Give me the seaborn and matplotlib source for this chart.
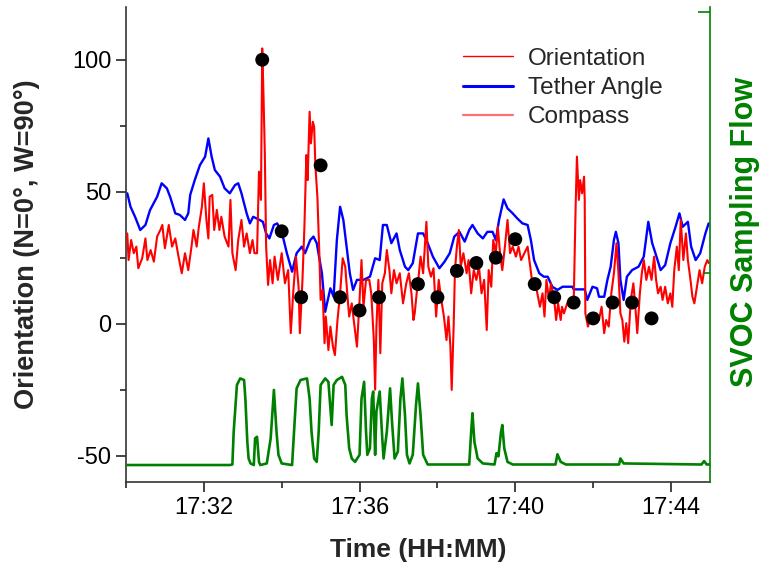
import numpy as np
import pandas as pd
import matplotlib
matplotlib.use('Agg')
import matplotlib.pyplot as plt
import matplotlib.dates as mdates
from matplotlib.lines import Line2D
from matplotlib.ticker import MultipleLocator
import seaborn as sns

# Time axis: seconds after 17:30:00
start_time = '2000-01-01 17:30:00'

# Orientation (red), degrees
red_sec = [2, 4, 8, 12, 16, 19, 25, 30, 33, 38, 43, 48, 53, 56, 60, 66, 71, 76, 81, 86,
           91, 96, 101, 104, 109, 112, 117, 120, 124, 127, 129, 133, 136, 140, 144, 147,
           152, 158, 161, 164, 169, 173, 178, 182, 186, 191, 195, 198, 202, 205, 208, 210,
           212, 214, 216, 219, 222, 226, 229, 234, 240, 245, 250, 254, 258, 262, 266, 268,
           272, 275, 278, 280, 283, 285, 288, 290, 292, 295, 298, 300, 303, 306, 308, 312,
           315, 319, 322, 326, 330, 334, 338, 341, 344, 348, 351, 356, 360, 363, 366, 370,
           375, 378, 382, 384, 386, 389, 392, 395, 399, 402, 406, 409, 413, 417, 422, 427,
           432, 436, 440, 443, 445, 448, 450, 454, 458, 463, 466, 470, 474, 478, 482, 486,
           490, 494, 497, 500, 502, 505, 507, 510, 513, 516, 520, 525, 528, 532, 536, 540,
           544, 548, 552, 556, 559, 563, 566, 570, 573, 577, 580, 584, 588, 592, 596, 601,
           605, 609, 614, 619, 623, 627, 630, 634, 638, 642, 645, 648, 652, 655, 660, 663,
           666, 670, 672, 675, 680, 685, 690, 693, 695, 698, 700, 703, 706, 707, 708, 712,
           716, 721, 724, 729, 733, 737, 740, 744, 748, 752, 756, 759, 762, 765, 768, 771,
           774, 778, 782, 785, 788, 792, 795, 798, 802, 806, 810, 814, 817, 820, 824, 827,
           831, 835, 839, 842, 845, 849, 852, 855, 859, 863, 866, 870, 873, 876, 880, 884,
           888, 892, 896, 898]
red_deg = [34.2, 24.1, 31.7, 26.7, 29.2, 21, 24.8, 32.3, 24.1, 27.9, 23.5, 33, 35.5, 37.4, 28.6, 37.4, 29.2, 32.3, 25.4, 19.1,
           26.7, 20.3, 29.2, 35.5, 29.2, 36.1, 44.3, 53.2, 39.3, 32.3, 48.1, 48.8, 35.5, 43.1, 35.5, 40.5,
           33, 29.2, 46.9, 26.7, 20.3, 31.7, 39.3, 29.2, 34.2, 26.7, 31.7, 26.7, 26.7, 57.6, 46.9, 104.3,
           86, 64.5, 29.2, 14.7, 24.1, 15.3, 25.4, 16.6, 26.7, 15.3, 20.3, -3.6, 12.8, 25.4, 14, -3.6,
           16.6, 36.7, 63.9, 54.4, 80.3, 68.3, 76.5, 74.6, 59.5, 48.1, 26.7, 9, 12.8, -7.4, 2.7, -10,
           -1.1, -8.7, -11.9, 1.4, 11.5, 24.8, 21.6, 11.5, 2.7, 7.7, 1.4, -8.7, 9, 24.1, 6.4, 16.6,
           16.6, 11.5, -6.2, -25, -1.1, 16.6, -11.2, 15.3, 19.1, 27.9, 20.3, 11.5, 20.3, 15.3, 19.1, 7.7,
           15.3, 19.1, 11.5, 1.4, 3.9, 11.5, 15.3, 25.4, 19.1, 38.6, 21.6, 17.8, 21, 2.7, 16.6, 9,
           2.7, -6.2, 2.7, -8.7, -25.1, -1.1, 20.3, 29.2, 35.5, 21.6, 26.7, 19.1, 24.1, 11.5, 20.3, 16.6,
           21.6, 11.5, 16.6, -2.4, 20.3, 14, 31.7, 26.7, 36.7, 25.4, 20.3, 29.2, 39.3, 26.7, 29.2, 25.4,
           29.2, 24.1, 26.7, 29.2, 21.6, 14, 16.6, 11.5, 6.4, 11.5, 2.7, 16.6, 9, 15.3, 9, 1.4,
           7.7, 1.4, 6.4, 3.9, 7.7, 6.4, 7.7, 44.3, 63.3, 46.9, 54.4, 49.4, 55.7, 46.9, 3.9, -1.1,
           2.7, 0.2, 3.9, 1.4, 6.4, -3.6, 1.4, -1.1, 11.5, 19.1, 30.5, 19.1, 3.9, 1.4, -6.8, 0.2,
           -7.4, 9, 15.3, 6.4, -3.6, 11.5, 19.1, 24.1, 16.6, 21.6, 16.6, 25.4, 16.6, 11.5, 14, 9,
           14, 7.7, 11.5, 6.4, 20.3, 29.2, 20.3, 39.3, 24.1, 34.2, 24.1, 16.6, 10.2, 7.7, 14, 20.3,
           15.3, 21.6, 24.1, 23]

# Tether angle (blue), degrees
blue_sec = [2, 7, 14, 22, 30, 37, 48, 55, 63, 68, 76, 83, 91, 96, 99, 106, 114, 122, 127, 132,
            137, 145, 152, 160, 168, 173, 178, 186, 191, 196, 206, 211, 216, 221, 228, 233, 240,
            248, 256, 263, 271, 276, 284, 289, 294, 302, 307, 315, 320, 325, 330, 335, 340, 345,
            350, 356, 366, 376, 384, 391, 396, 402, 409, 417, 422, 430, 435, 442, 450, 458, 465,
            473, 483, 491, 499, 506, 514, 522, 529, 534, 542, 550, 557, 565, 570, 575, 582, 588,
            596, 603, 611, 619, 624, 629, 637, 644, 650, 657, 665, 673, 688, 690, 707, 711, 719,
            726, 729, 737, 742, 747, 752, 755, 759, 762, 767, 772, 780, 790, 798, 805, 811, 816,
            824, 831, 839, 847, 853, 858, 866, 871, 878, 885, 893, 898]
blue_deg = [49.4, 44.3, 40.5, 35.5, 37.4, 43, 48.1, 53.2, 51.3, 48.1, 41.8, 41.2, 39.3, 41.8, 48.8, 54.4, 60.1, 63.3, 70.2, 63.3,
            58.2, 55.7, 51.3, 49.4, 52.5, 53.2, 49.4, 41.8, 38, 40.5, 39.3, 38.6, 34.2, 32.3, 37.4, 38, 34.8,
            26.7, 19.7, 26.7, 29.2, 26.7, 31.7, 33, 30.5, 19.1, 4.5, 13.4, 10.2, 31.7, 44.3, 39.3, 29.2, 19.1,
            12.8, 16.6, 16.6, 17.8, 24.8, 24.1, 37.4, 37.4, 30.5, 34.2, 27.9, 21.6, 20.3, 22.9, 34.2, 34.2, 30.5,
            25.4, 21, 23.5, 26.7, 33, 34.8, 31.1, 35.5, 37.4, 34.2, 32.3, 34.8, 34.8, 31.7, 39.3, 47.1, 43.7,
            41.8, 39.9, 38, 37.4, 31.7, 24.1, 19.1, 17.8, 17.8, 14, 12.8, 14, 14, 13, 13, 9, 14,
            13.4, 10.2, 10.2, 16.6, 21.6, 31.7, 34.8, 30.5, 16.6, 9, 17.8, 20.3, 21.6, 25.4, 38.6, 30.5, 26.7,
            20.3, 22.2, 30.5, 36.7, 41.8, 36.7, 38.6, 29.2, 24.1, 26.7, 34.2, 38]

# Compass readings (black dots), degrees
compass_sec = [210, 240, 270, 300, 330, 360, 390, 450, 480, 510, 540, 570, 600, 630, 660,
               690, 720, 750, 780, 810]
compass_deg = [100, 35, 10, 60, 10, 5, 10, 15, 10, 20, 23, 25, 32, 15, 10, 8, 2, 8, 8, 2]

# SVOC sampling flow (green, right axis)
flow_sec = [0, 160, 164, 166, 171, 176, 182, 184, 187, 189, 192, 197, 199, 202, 205, 207, 217,
            223, 228, 232, 235, 240, 256, 259, 263, 269, 279, 283, 286, 290, 294, 297, 300, 307,
            312, 317, 320, 325, 333, 338, 340, 344, 348, 353, 360, 363, 367, 370, 372, 376, 379,
            381, 384, 386, 391, 395, 397, 402, 407, 410, 414, 419, 423, 426, 430, 433, 437, 442,
            447, 450, 454, 458, 465, 529, 532, 534, 537, 542, 550, 568, 571, 574, 578, 580, 583,
            588, 596, 662, 665, 670, 678, 760, 762, 767, 887, 891, 895, 900]
flow_val = [0.267, 0.267, 0.269, 0.394, 0.573, 0.598, 0.592, 0.521, 0.356, 0.292, 0.273, 0.267, 0.369,
            0.375, 0.279, 0.267, 0.273, 0.369, 0.554, 0.394, 0.306, 0.273, 0.267, 0.394, 0.560, 0.592,
            0.598, 0.521, 0.394, 0.292, 0.279, 0.394, 0.573, 0.598, 0.585, 0.420, 0.573, 0.592, 0.604,
            0.573, 0.458, 0.331, 0.292, 0.279, 0.306, 0.521, 0.585, 0.394, 0.306, 0.331, 0.521, 0.548,
            0.306, 0.471, 0.548, 0.369, 0.292, 0.394, 0.560, 0.433, 0.292, 0.318, 0.521, 0.598, 0.458,
            0.306, 0.273, 0.306, 0.496, 0.579, 0.458, 0.306, 0.269, 0.269, 0.394, 0.465, 0.356, 0.292,
            0.273, 0.269, 0.312, 0.300, 0.394, 0.420, 0.331, 0.279, 0.269, 0.269, 0.308, 0.279, 0.269,
            0.269, 0.292, 0.273, 0.269, 0.282, 0.269, 0.269]

legend_labels = ['Orientation', 'Tether Angle', 'Compass']


def to_time(sec):
    return pd.Timestamp(start_time) + pd.to_timedelta(sec, unit='s')


red_df = pd.DataFrame({'time': to_time(red_sec), 'deg': red_deg})
blue_df = pd.DataFrame({'time': to_time(blue_sec), 'deg': blue_deg})
compass_df = pd.DataFrame({'time': to_time(compass_sec), 'deg': compass_deg})
flow_df = pd.DataFrame({'time': to_time(flow_sec), 'flow': flow_val})

sns.set_style('ticks')
plt.rcParams['font.family'] = ['Liberation Sans', 'DejaVu Sans']
plt.rcParams['axes.unicode_minus'] = False

fig = plt.figure(figsize=(7.7, 5.72), dpi=100)
ax = fig.add_axes([0.1636, 0.1573, 0.7584, 0.8305])

sns.lineplot(data=blue_df, x='time', y='deg', ax=ax, color='#0000ff', lw=1.7, zorder=2)
sns.lineplot(data=red_df, x='time', y='deg', ax=ax, color='#ff0000', lw=1.5, zorder=3)
sns.scatterplot(data=compass_df, x='time', y='deg', ax=ax, color='black', s=100,
                edgecolor='none', zorder=5)

ax.set_xlim(to_time(0), to_time(900))
ax.set_ylim(-60, 120)
ax.yaxis.set_major_locator(MultipleLocator(50))
ax.yaxis.set_minor_locator(MultipleLocator(25))
ax.xaxis.set_major_locator(mdates.MinuteLocator(byminute=range(0, 60, 4)))
ax.xaxis.set_minor_locator(mdates.MinuteLocator(byminute=range(2, 60, 4)))
ax.xaxis.set_major_formatter(mdates.DateFormatter('%H:%M'))
ax.tick_params(which='major', length=7, width=1.2, labelsize=17, colors='#222222',
               labelcolor='black')
ax.tick_params(which='minor', length=4, width=1.2)
for side in ['left', 'bottom']:
    ax.spines[side].set_linewidth(1.2)
    ax.spines[side].set_color('#333333')
ax.spines['top'].set_visible(False)
ax.spines['right'].set_visible(False)

ax.set_xlabel('Time (HH:MM)', fontsize=19, fontweight='bold', va='center')
ax.xaxis.set_label_coords(0.5, -0.143)
ax.set_ylabel('Orientation (N=0°, W=90°)', fontsize=19.5, fontweight='bold', va='center')
ax.yaxis.set_label_coords(-0.17, 0.5)

# right axis with the sampling flow
ax2 = ax.twinx()
sns.lineplot(data=flow_df, x='time', y='flow', ax=ax2, color='#008000', lw=1.9)
ax2.set_ylim(0.202, 2.018)
ax2.yaxis.set_major_locator(MultipleLocator(2))
ax2.yaxis.set_minor_locator(MultipleLocator(1))
ax2.tick_params(axis='y', which='both', direction='in', colors='#008000',
                labelright=False, width=1.2)
ax2.tick_params(axis='y', which='major', length=9)
ax2.tick_params(axis='y', which='minor', length=4)
for side in ['left', 'top', 'bottom']:
    ax2.spines[side].set_visible(False)
ax2.spines['right'].set_color('#008000')
ax2.spines['right'].set_linewidth(1.2)
ax2.set_ylabel('SVOC Sampling Flow', fontsize=22, fontweight='bold', color='#008000',
               va='center', rotation=90)
ax2.yaxis.set_label_coords(1.06, 0.526)
ax2.set_xlabel('')

handles = [Line2D([], [], color='#ff0000', lw=1),
           Line2D([], [], color='#0000ff', lw=2.2),
           Line2D([], [], color='#ff7070', lw=1.6)]
ax2.legend(handles, legend_labels, loc='upper left', bbox_to_anchor=(0.54, 0.96),
           frameon=False, fontsize=17.5, handlelength=2.05, handletextpad=0.62,
           labelspacing=0.3)

fig.savefig('out.png', dpi=100)
